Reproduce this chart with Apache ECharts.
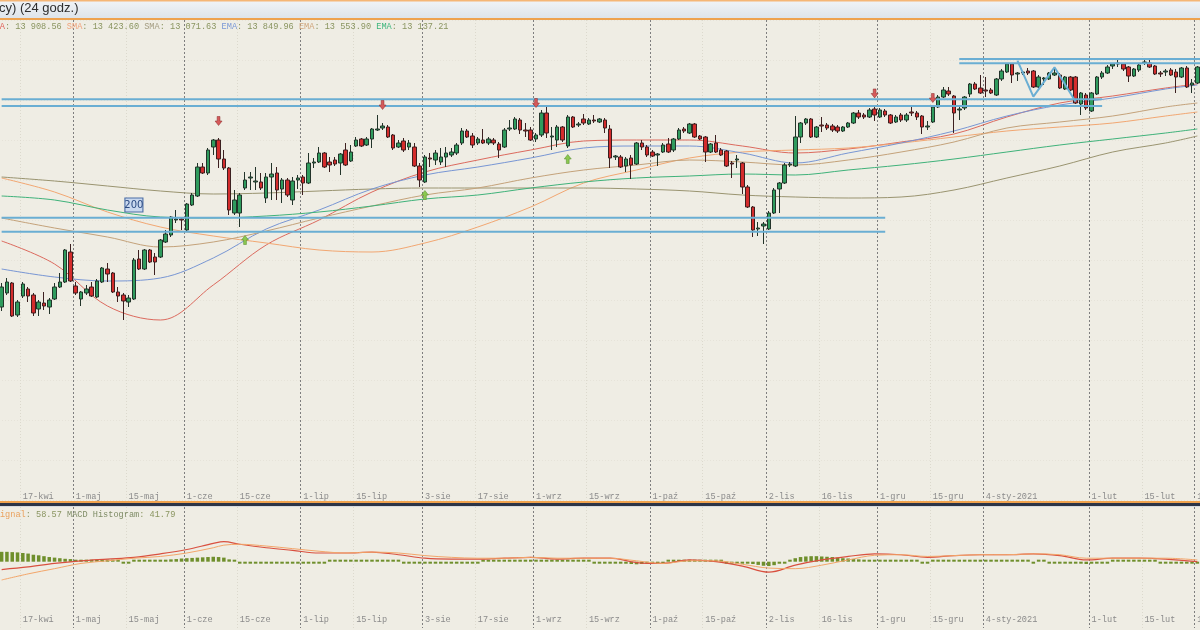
<!DOCTYPE html>
<html><head><meta charset="utf-8">
<script src="https://cdn.jsdelivr.net/npm/echarts@6.0.0/dist/echarts.min.js"></script>
<style>html,body{margin:0;padding:0;background:#efede4;}#c{width:1200px;height:630px;}</style>
</head><body><div id="c"></div><script>
// ---------- DATA ----------
const startDate = '2020-04-09';
const candleCount = 227;
const holidays = ['2020-04-10','2020-04-13','2020-12-24','2020-12-25','2020-12-31','2021-01-01'];
const monthTicks = [['2020-05-01','1-maj'],['2020-06-01','1-cze'],['2020-07-01','1-lip'],['2020-08-03','3-sie'],['2020-09-01','1-wrz'],['2020-10-01','1-paź'],['2020-11-02','2-lis'],['2020-12-01','1-gru'],['2021-01-04','4-sty-2021'],['2021-02-01','1-lut'],['2021-03-01','1-mar']];
const midTicks = [['2020-04-17','17-kwi'],['2020-05-15','15-maj'],['2020-06-15','15-cze'],['2020-07-15','15-lip'],['2020-08-17','17-sie'],['2020-09-15','15-wrz'],['2020-10-15','15-paź'],['2020-11-16','16-lis'],['2020-12-15','15-gru'],['2021-02-15','15-lut']];

// [open, close, low, high]
const candles = [
[10395,10695,10335,10755],[10605,10770,10575,10830],[10755,10260,10245,10770],[10275,10470,10245,10500],[10560,10740,10530,10770],
[10665,10560,10470,10695],[10575,10305,10260,10605],[10365,10470,10260,10500],[10455,10410,10350,10620],[10395,10500,10290,10530],
[10515,10695,10500,10755],[10695,10770,10680,10905],[10770,11250,10755,11265],[11220,10785,10770,11340],[10710,10605,10575,10770],
[10515,10620,10410,10635],[10605,10665,10575,10725],[10695,10560,10545,10770],[10545,10785,10530,10815],[10770,10980,10755,10995],
[10965,10890,10770,11055],[10905,10620,10605,10920],[10620,10560,10470,10695],[10575,10485,10200,10605],[10470,10530,10395,10575],
[10515,11100,10500,11130],[11115,10965,10950,11250],[10965,11250,10950,11265],[11250,11070,11055,11265],[11145,11070,10875,11205],
[11145,11400,11130,11415],[11370,11490,11355,11550],[11475,11745,11445,11760],[11700,11715,11655,11850],[11715,11700,11550,11745],
[11550,11940,11535,11955],[11925,12075,11910,12105],[12060,12495,12045,12555],[12495,12405,12390,12555],[12405,12750,12375,12780],
[12795,12900,12675,12915],[12900,12615,12480,12930],[12615,12480,12450,12750],[12480,11850,11775,12495],[11805,12000,11775,12150],
[11805,12075,11595,12105],[12180,12300,12150,12420],[12330,12345,12150,12420],[12270,12285,12150,12495],[12270,12180,12150,12405],
[12030,12345,11955,12405],[12345,12390,12000,12555],[12405,12150,12000,12495],[12165,12300,11955,12330],[12300,12075,12045,12330],
[12000,12285,11925,12345],[12300,12330,12165,12375],[12345,12255,12075,12375],[12255,12555,12240,12705],[12555,12570,12480,12630],
[12570,12705,12555,12795],[12705,12495,12480,12720],[12570,12525,12420,12645],[12600,12540,12510,12645],[12555,12690,12375,12705],
[12750,12525,12510,12855],[12585,12720,12570,12825],[12810,12900,12795,12945],[12915,12810,12795,12930],[12825,12915,12810,12945],
[12915,13065,12780,13080],[13050,13065,13035,13275],[13080,13110,13050,13155],[13095,12945,12930,13125],[12975,12780,12750,12990],
[12795,12855,12780,12900],[12885,12750,12720,12930],[12795,12855,12750,12900],[12795,12510,12495,12855],[12510,12300,12195,12555],
[12270,12645,12255,12675],[12630,12615,12495,12705],[12600,12705,12525,12750],[12570,12645,12525,12780],[12645,12705,12495,12795],
[12675,12720,12645,12780],[12705,12825,12675,12855],[12855,13035,12825,13080],[13035,12945,12930,13065],[12960,12825,12780,13005],
[12855,12915,12825,12945],[12900,12855,12840,13065],[12855,12915,12825,12945],[12900,12855,12825,12930],[12840,12750,12630,12870],
[12795,13050,12780,13080],[13065,13080,13035,13200],[13065,13215,13050,13245],[13200,13050,12990,13230],[13050,13035,12945,13155],
[13050,12900,12885,13095],[12915,12975,12870,13005],[12975,13305,12945,13350],[13305,13005,12930,13425],[12945,12960,12750,13095],
[12900,13095,12795,13125],[13095,12900,12870,13110],[12810,13245,12780,13275],[13245,13095,13080,13260],[13125,13140,13095,13170],
[13215,13155,13125,13290],[13140,13200,13125,13230],[13200,13185,13155,13275],[13170,13215,13155,13230],[13200,13080,13005,13230],
[13065,12630,12480,13125],[12645,12660,12600,12675],[12645,12495,12480,12675],[12510,12615,12420,12645],[12630,12525,12315,12675],
[12540,12855,12525,12870],[12855,12795,12750,12900],[12795,12675,12645,12825],[12720,12660,12645,12750],[12675,12690,12510,12705],
[12720,12825,12705,12855],[12840,12720,12705,12930],[12750,12915,12720,12930],[12915,13050,12900,13080],[13065,13035,13005,13095],
[13005,13140,12990,13155],[13140,12945,12930,13155],[12960,12915,12900,12975],[12945,12720,12570,12960],[12720,12840,12705,12855],
[12855,12720,12705,12975],[12750,12675,12660,12780],[12735,12510,12495,12750],[12555,12540,12330,12585],[12600,12615,12480,12675],
[12555,12195,12090,12570],[12195,11895,11880,12225],[11895,11550,11445,11910],[11565,11580,11460,11670],[11610,11640,11340,11670],
[11565,11805,11550,11835],[11805,12150,11790,12180],[12165,12255,11805,12270],[12255,12525,12240,12555],[12525,12540,12495,12570],
[12510,12945,12495,13260],[12945,13155,12855,13170],[13155,13215,13125,13230],[13215,12945,12930,13230],[12945,13095,12930,13110],
[13125,13110,13020,13245],[13125,13080,13050,13155],[13110,13050,13020,13140],[13095,13035,13005,13125],[13035,13095,13020,13110],
[13095,13155,13080,13170],[13155,13305,13140,13320],[13305,13245,13215,13350],[13275,13245,13215,13305],[13245,13350,13230,13380],
[13365,13275,13185,13395],[13245,13350,13230,13380],[13335,13275,13245,13365],[13275,13155,13140,13290],[13170,13245,13155,13275],
[13275,13200,13170,13305],[13200,13275,13170,13305],[13320,13305,13260,13395],[13305,13245,13200,13335],[13260,13095,12990,13275],
[13095,13110,13050,13185],[13170,13395,13155,13425],[13395,13545,13380,13575],[13545,13650,13530,13695],[13635,13590,13560,13695],
[13560,13305,13005,13575],[13350,13365,13200,13395],[13380,13545,13350,13560],[13590,13740,13545,13755],[13740,13665,13650,13770],
[13680,13605,13590,13875],[13650,13635,13545,13845],[13650,13605,13590,13680],[13575,13815,13560,13830],[13815,13935,13785,13965],
[13920,14040,13905,14055],[14040,13875,13755,14055],[13890,13905,13785,13920],[13905,13920,13875,13935],[13935,13905,13875,13980],
[13935,13695,13680,13950],[13695,13845,13680,13875],[13815,13830,13725,13845],[13815,13905,13800,13920],[13875,13905,13860,13995],
[13875,13680,13665,13905],[13665,13845,13650,13860],[13845,13650,13635,13860],[13845,13455,13440,13860],[13440,13605,13275,13620],
[13575,13380,13350,13605],[13335,13605,13320,13620],[13590,13845,13575,13860],[13845,13905,13815,13935],[13905,13995,13890,14025],
[14010,14040,13965,14055],[14040,14055,13995,14115],[14040,13965,13935,14055],[13995,13860,13770,14010],[13860,13965,13845,13980],
[13950,14025,13920,14040],[14055,14070,14025,14100],[14055,13995,13980,14100],[14010,13890,13875,14025],[13905,13890,13845,13935],
[13920,13935,13860,13965],[13950,13875,13860,13980],[13920,13845,13605,13965],[13845,13980,13830,13995],[13980,13695,13680,14010],
[13725,13755,13605,13815],[13755,13995,13740,14010]
];

// moving averages read at these candle indices
const maIdx  = [0,10,20,30,40,50,60,70,80,90,100,110,120,130,140,150,160,170,180,190,200,210,220,226];
const sma50  = [11385,11040,10410,10200,10725,11325,11700,12120,12420,12600,12750,12885,12900,12900,12810,12705,12765,12870,12990,13245,13455,13560,13680,13740];
const sma100 = [12330,12120,11820,11595,11460,11355,11250,11220,11355,11595,11895,12255,12450,12630,12720,12750,12780,12855,12945,13035,13095,13155,13260,13320];
const sma200 = [12345,12285,12210,12135,12090,12105,12135,12165,12180,12180,12180,12180,12165,12135,12075,12045,12030,12045,12150,12330,12510,12720,12855,12960];
const ema50  = [10965,10845,10785,10830,11130,11565,11850,12165,12375,12495,12630,12780,12810,12810,12705,12555,12705,12855,13035,13260,13425,13530,13665,13725];
const ema100 = [11730,11580,11445,11295,11370,11535,11730,11910,12075,12180,12330,12450,12525,12600,12570,12525,12600,12720,12870,13080,13170,13260,13395,13455];
const ema200 = [12060,12000,11850,11745,11730,11760,11820,11910,12015,12075,12180,12270,12330,12360,12390,12375,12450,12525,12615,12720,12825,12915,13005,13065];
const legendValues = {sma1:'13 908.56', sma2:'13 423.60', sma3:'13 071.63', ema1:'13 849.96', ema2:'13 553.90', ema3:'13 137.21'};

// support / resistance levels [price, fromIndex, toIndex]
const levels = [[13510,-0.5,208],[13410,-0.5,208],[11735,-0.5,167],[11525,-0.5,167],[14115,181.2,227],[14050,181.2,227]];
const zigzag = [[191.6,14090],[195.0,13550],[199.1,13990],[203.0,13475]];
const downArrows = [[41,13185],[72,13425],[101,13455],[165,13598],[176,13530]];
const upArrows = [[46,11400],[80,12075],[107,12615]];
const periodTag = [25,11925,'200'];

// MACD
const macdIdx = [0,5,10,15,20,25,30,35,40,42,45,50,55,60,65,70,75,80,85,90,95,100,105,110,115,120,125,130,135,140,145,150,155,160,165,170,175,180,185,190,195,200,205,210,215,220,226];
const macdLine = [-135,-90,-30,15,45,75,135,210,315,345,300,240,195,150,150,165,120,60,45,45,60,75,45,60,60,-15,-30,30,0,-75,-180,-60,30,90,135,120,75,105,120,120,135,105,30,60,60,45,0];
const signalLine = [-315,-210,-120,-30,15,60,90,150,240,285,300,270,225,180,150,165,150,105,75,60,60,75,60,60,60,15,-30,15,15,-45,-110,-120,-60,30,110,120,90,105,120,120,135,120,60,60,60,60,30];
const histogram = [
170,170,165,160,150,140,
120,110,95,80,70,60,50,45,
30,25,25,20,20,20,15,15,
5,-5,-5,0,5,
15,20,20,25,30,40,45,55,
60,65,70,75,80,85,80,70,
40,15,
-5,-10,-15,-15,-20,-20,-20,-20,-20,-20,-25,-25,-25,-20,-20,-15,
-5,0,5,5,5,10,
15,15,20,20,20,15,10,
5,0,-5,-10,-15,-20,
-25,-30,-30,-30,-25,-25,
-20,-15,-10,-10,-5,
0,5,10,
15,15,15,15,10,10,
10,5,5,5,0,0,
0,5,5,5,0,0,-5,
-5,-10,-15,-20,
-30,-35,-40,-45,-40,-35,
-20,-10,-5,0,
10,20,25,25,20,15,
10,5,0,0,-5,-5,-10,-15,
-25,-40,-55,-70,-75,-60,
-35,-10,
30,60,80,90,95,95,90,85,80,70,
60,55,45,40,35,30,25,
20,15,10,10,5,5,0,
0,-5,-5,0,0,5,5,0,0,
0,5,5,5,10,15,20,20,15,10,5,5,0,
-5,0,0,-5,
-10,-15,-20,-20,-25,-30,-40,-35,
-20,-10,-5,0,5,5,5,5,5,5,0,0,-5,-5,-5,
-10,-10,-15,-20,-15
];
const macdLegend = {signal:'58.57', hist:'41.79'};

// ---------- BUILD ----------
function tradingDays(start, n){
  const out=[]; const d=new Date(start+'T00:00:00Z');
  while(out.length<n){
    const s=d.toISOString().slice(0,10); const wd=d.getUTCDay();
    if(wd!==0 && wd!==6 && holidays.indexOf(s)<0) out.push(s);
    d.setUTCDate(d.getUTCDate()+1);
  }
  return out;
}
const categories = tradingDays(startDate, candleCount);
const labelMap = new Map(monthTicks.concat(midTicks));
const monthSet = new Set(monthTicks.map(t=>t[0]));
const midSet = new Set(midTicks.map(t=>t[0]));
const zip = (idx, vals) => idx.map((k,j)=>[k, vals[j]]);
const MONO = 'Liberation Mono';

function xAxisMain(gridIndex, margin){
  return {type:'category', gridIndex, data:categories, boundaryGap:true,
    axisLine:{show:false}, axisTick:{show:false},
    axisLabel:{show:true, interval:(i,v)=>labelMap.has(v), formatter:v=>labelMap.get(v)||'',
      align:'left', verticalAlign:'top', margin, fontFamily:MONO, fontSize:8.6, color:'#8b8b8b', hideOverlap:false},
    splitLine:{show:true, interval:(i,v)=>monthSet.has(v), lineStyle:{color:'#7e7e7e', type:[2,2], width:1}}};
}
function xAxisFaint(gridIndex){
  return {type:'category', gridIndex, data:categories, boundaryGap:true, position:'top',
    axisLine:{show:false}, axisTick:{show:false}, axisLabel:{show:false},
    splitLine:{show:true, interval:(i,v)=>midSet.has(v), lineStyle:{color:'#dcd9cd', type:[1,2], width:1}}};
}

const maSeries = [
  ['SMA50', sma50, '#dc6a5e'], ['SMA100', sma100, '#f2a772'], ['SMA200', sma200, '#9a9470'],
  ['EMA50', ema50, '#7896d4'], ['EMA100', ema100, '#c4a27a'], ['EMA200', ema200, '#3fb27a']
].map(([name, vals, color]) => ({
  name, type:'line', xAxisIndex:0, yAxisIndex:0, data:zip(maIdx, vals), smooth:0.35,
  showSymbol:false, symbol:'none', silent:true, z:2, lineStyle:{color, width:1}
}));

const levelSeries = levels.map(([p,a,b]) => ({
  type:'line', xAxisIndex:0, yAxisIndex:0, data:[[a,p],[b,p]], symbol:'none', silent:true, z:4,
  lineStyle:{color:'#6aaed3', width:2}
}));
levelSeries.push({type:'line', xAxisIndex:0, yAxisIndex:0, data:zigzag, symbol:'none', silent:true, z:4,
  lineStyle:{color:'#6aaed3', width:2}});

const DOWN='path://M3,0L7,0L7,5L10,5L5,10L0,5L3,5Z';
const UP='path://M5,0L10,5L7,5L7,10L3,10L3,5L0,5Z';
const markPts = downArrows.map(([i,p])=>({coord:[i,p], symbol:DOWN, symbolSize:[7,9],
    itemStyle:{color:'#d65a5a', borderColor:'#8a2a2a', borderWidth:0.5}, label:{show:false}}))
  .concat(upArrows.map(([i,p])=>({coord:[i,p], symbol:UP, symbolSize:[7,9],
    itemStyle:{color:'#8cc850', borderColor:'#4f8a2a', borderWidth:0.5}, label:{show:false}})))
  .concat([{coord:[periodTag[0],periodTag[1]], symbol:'rect', symbolSize:[18,14],
    itemStyle:{color:'#c9d8ee', borderColor:'#4d6fa6', borderWidth:1},
    label:{show:true, position:'inside', formatter:periodTag[2], color:'#2c4a82', fontSize:10, fontFamily:'DejaVu Sans'}}]);

const chart = echarts.init(document.getElementById('c'), null, {renderer:'canvas', width:1200, height:630});
chart.setOption({
  animation:false,
  backgroundColor:'#efede4',
  grid:[
    {left:-1, top:20, width:1201, height:480, containLabel:false, outerBoundsMode:'none'},
    {left:-1, top:507, width:1201, height:121, containLabel:false, outerBoundsMode:'none'}
  ],
  xAxis:[ xAxisMain(0,-8), xAxisFaint(0), xAxisMain(1,-13), xAxisFaint(1) ],
  yAxis:[
    {gridIndex:0, type:'value', min:7500, max:14700, interval:600, position:'right',
      axisLine:{show:false}, axisTick:{show:false}, axisLabel:{show:false},
      splitLine:{show:true, lineStyle:{color:'#e6e3d9', type:[1,2]}}},
    {gridIndex:1, type:'value', min:-1142, max:942, position:'right',
      axisLine:{show:false}, axisTick:{show:false}, axisLabel:{show:false}, splitLine:{show:false}}
  ],
  series:[
    ...maSeries,
    {name:'DE30', type:'candlestick', xAxisIndex:0, yAxisIndex:0, data:candles, barWidth:4, z:3, silent:true,
      itemStyle:{color:'#2f9b5d', color0:'#d42c2c', borderColor:'#23342a', borderColor0:'#3c2020', borderWidth:1},
      markPoint:{silent:true, data:markPts, z:6}},
    ...levelSeries,
    {name:'MACD Histogram', type:'bar', xAxisIndex:2, yAxisIndex:1, data:histogram, barWidth:3.5, barMinHeight:2,
      silent:true, itemStyle:{color:'#6f8f2c'}, z:2},
    {name:'MACD', type:'line', xAxisIndex:2, yAxisIndex:1, data:zip(macdIdx, macdLine), smooth:0.35,
      symbol:'none', silent:true, z:3, lineStyle:{color:'#d9503f', width:1.2}},
    {name:'Signal', type:'line', xAxisIndex:2, yAxisIndex:1, data:zip(macdIdx, signalLine), smooth:0.35,
      symbol:'none', silent:true, z:3, lineStyle:{color:'#f3a66a', width:1}}
  ],
  graphic:[
    {type:'rect', left:0, top:0, shape:{width:1200, height:19}, z:10, silent:true,
      style:{fill:new echarts.graphic.LinearGradient(0,0,0,1,[{offset:0,color:'#f1f4f7'},{offset:1,color:'#dde3e9'}])}},
    {type:'rect', left:0, top:0, shape:{width:1200, height:1.5}, z:11, silent:true, style:{fill:'#f5b676'}},
    {type:'rect', left:0, top:18, shape:{width:1200, height:2}, z:11, silent:true, style:{fill:'#eea24f'}},
    {type:'text', left:-1, top:2, z:12, silent:true,
      style:{text:'cy) (24 godz.)', fill:'#2e2e2e', font:'13px "Liberation Sans"'}},
    {type:'text', x:-10.5, y:27, z:12, silent:true,
      style:{text:'{r|SMA}{v|: '+legendValues.sma1+' }{o|SMA}{v|: '+legendValues.sma2+' }{g|SMA}{v|: '+legendValues.sma3+' }{b|EMA}{v|: '+legendValues.ema1+' }{t|EMA}{v|: '+legendValues.ema2+' }{gr|EMA}{v|: '+legendValues.ema3+'}',
        verticalAlign:'middle', font:'8.6px "Liberation Mono"',
        rich:{r:{fill:'#e0625a',font:'8.6px "Liberation Mono"'}, o:{fill:'#f0a27a',font:'8.6px "Liberation Mono"'}, g:{fill:'#a39c80',font:'8.6px "Liberation Mono"'},
          b:{fill:'#7a98d6',font:'8.6px "Liberation Mono"'}, t:{fill:'#cfa57c',font:'8.6px "Liberation Mono"'}, gr:{fill:'#3cb57c',font:'8.6px "Liberation Mono"'},
          v:{fill:'#8a9560',font:'8.6px "Liberation Mono"'}}}},
    {type:'rect', left:0, top:501, shape:{width:1200, height:2}, z:11, silent:true, style:{fill:'#efa24e'}},
    {type:'rect', left:0, top:503, shape:{width:1200, height:3}, z:11, silent:true, style:{fill:'#2b3447'}},
    {type:'rect', left:0, top:506, shape:{width:1200, height:1}, z:11, silent:true, style:{fill:'#d5dae0'}},
    {type:'text', x:-5.2, y:515, z:12, silent:true,
      style:{text:'{o|Signal}{v|: '+macdLegend.signal+' }{h|MACD Histogram}{v|: '+macdLegend.hist+'}',
        verticalAlign:'middle', font:'8.6px "Liberation Mono"',
        rich:{o:{fill:'#eaa25e',font:'8.6px "Liberation Mono"'}, v:{fill:'#8a9560',font:'8.6px "Liberation Mono"'}, h:{fill:'#7f8c66',font:'8.6px "Liberation Mono"'}}}}
  ]
});
</script></body></html>
